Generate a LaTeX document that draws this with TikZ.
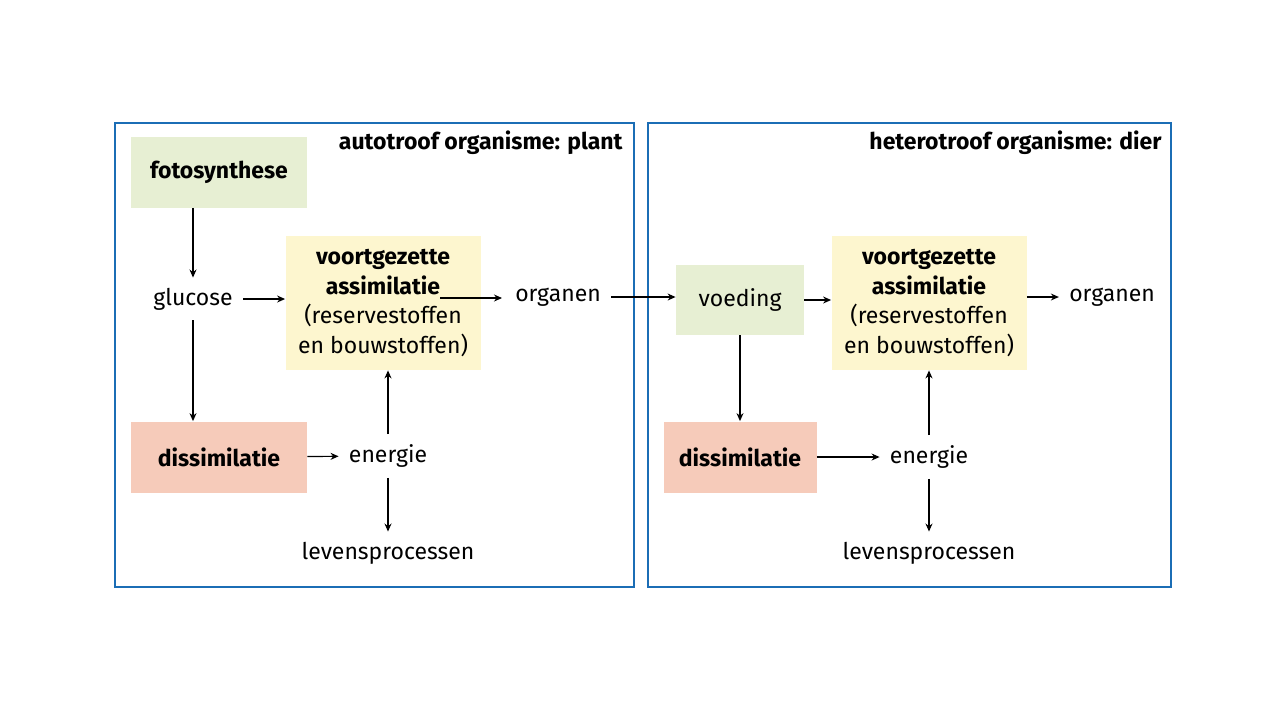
\documentclass[tikz,border=0pt]{standalone}
\usepackage{fontspec}
\setmainfont{Fira Sans}
\usetikzlibrary{arrows.meta}
\definecolor{frame}{HTML}{1B6DB5}
\definecolor{grn}{HTML}{E7EFD3}
\definecolor{yel}{HTML}{FDF6CF}
\definecolor{sal}{HTML}{F6CBBA}
\begin{document}
\begin{tikzpicture}[x=0.5pt,y=-0.5pt,
  panel/.style={draw=frame,line width=1.3pt,fill=white},
  blk/.style={draw=none,inner sep=0pt,font=\fontsize{11.5}{14.8}\selectfont\bfseries,align=center},
  lbl/.style={inner sep=5pt,font=\fontsize{11.5}{14}\selectfont,align=center},
  ttl/.style={inner sep=0pt,font=\fontsize{11.5}{14}\selectfont\bfseries,anchor=east},
  arr/.style={-{Stealth[length=4pt,width=3.5pt]},line width=0.6pt}]
\useasboundingbox (0,0) rectangle (1280,720);
\fill[white] (0,0) rectangle (1280,720);
\draw[panel] (115,123) rectangle (634,587);
\draw[panel] (648,123) rectangle (1171,587);
\node[ttl] at (623,143) {autotroof organisme: plant};
\node[ttl] at (1162,143) {heterotroof organisme: dier};
% left
\node[blk,fill=grn,minimum width=88pt,minimum height=35.5pt] (foto) at (219,172) {fotosynthese};
\node[blk,fill=yel,minimum width=97.5pt,minimum height=67pt] (va) at (383,303) {voortgezette\\assimilatie\\\mdseries(reservestoffen\\\mdseries en bouwstoffen)};
\node[blk,fill=sal,minimum width=88pt,minimum height=35.5pt] (dis) at (219,457) {dissimilatie};
\node[lbl] (glu) at (193,299) {glucose};
\node[lbl] (org) at (558,297) {organen};
\node[lbl] (en) at (388,456) {energie};
\node[lbl] (lev) at (388,553) {levensprocessen};
\coordinate (vaout) at (440,298);
\coordinate (orgin) at (502,298);
\draw[arr] (foto.south -| glu) -- (glu);
\draw[arr] (glu) -- (glu |- dis.north);
\draw[arr] (glu) -- (va.west |- glu);
\draw[arr] (vaout) -- (orgin);
\draw[arr] (dis) -- (en);
\draw[arr] (en) -- (en |- va.south);
\draw[arr] (en) -- (lev);
% right
\node[blk,fill=grn,minimum width=64pt,minimum height=35pt] (voe) at (740,300) {\mdseries voeding};
\node[blk,fill=yel,minimum width=97.5pt,minimum height=67pt] (va2) at (929,303) {voortgezette\\assimilatie\\\mdseries(reservestoffen\\\mdseries en bouwstoffen)};
\node[blk,fill=sal,minimum width=76.5pt,minimum height=35.5pt] (dis2) at (740,457) {dissimilatie};
\node[lbl] (org2) at (1112,297) {organen};
\node[lbl] (en2) at (929,457) {energie};
\node[lbl] (lev2) at (929,553) {levensprocessen};
\draw[arr] (org) -- (voe.west |- org);
\draw[arr] (voe) -- (dis2);
\draw[arr] (voe) -- (va2.west |- voe);
\draw[arr] (va2.east |- org2) -- (org2);
\draw[arr] (dis2) -- (en2);
\draw[arr] (en2) -- (en2 |- va2.south);
\draw[arr] (en2) -- (lev2);
\end{tikzpicture}
\end{document}
